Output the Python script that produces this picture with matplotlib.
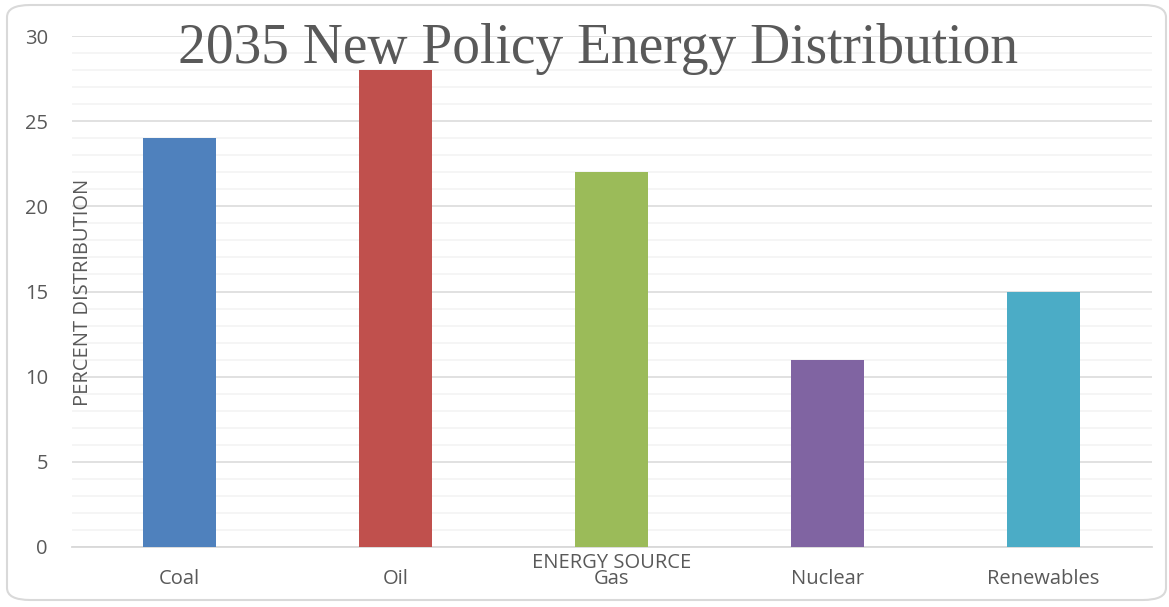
import matplotlib
matplotlib.use("Agg")
import matplotlib.pyplot as plt
from matplotlib.patches import FancyBboxPatch
from matplotlib.ticker import MultipleLocator

sources = ["Coal", "Oil", "Gas", "Nuclear", "Renewables"]
percent = [24, 28, 22, 11, 15]
colors = ["#4F81BD", "#C0504D", "#9BBB59", "#8064A2", "#4BACC6"]

W, H = 1169, 607
text_col = "#595959"
plt.rcParams['font.family'] = ['Open Sans', 'DejaVu Sans']

fig = plt.figure(figsize=(W / 100, H / 100), dpi=100)
ax = fig.add_axes([71.5 / W, (H - 547) / H, 1080 / W, 511 / H])

ax.bar(range(len(sources)), percent, width=0.34, color=colors, zorder=3)
ax.set_xlim(-0.5, len(sources) - 0.5)
ax.set_ylim(0, 30)
ax.yaxis.set_major_locator(MultipleLocator(5))
ax.yaxis.set_minor_locator(MultipleLocator(1))
ax.set_xticks(range(len(sources)))
ax.set_xticklabels(sources)

ax.grid(axis='y', which='major', color='#D9D9D9', linewidth=1.1, zorder=1)
ax.grid(axis='y', which='minor', color='#F2F2F2', linewidth=1.1, zorder=0)
for s in ['top', 'right', 'left']:
    ax.spines[s].set_visible(False)
ax.spines['bottom'].set_color('#D9D9D9')
ax.spines['bottom'].set_linewidth(1.3)
ax.tick_params(axis='both', which='both', length=0, colors=text_col, labelsize=14.5)
ax.tick_params(axis='y', pad=17)
ax.tick_params(axis='x', pad=16)

# title sits over the gridlines
fig.text(598 / W, (H - 63) / H, "2035 New Policy Energy Distribution",
         ha='center', va='baseline', fontsize=40, color=text_col,
         family=['Liberation Serif', 'DejaVu Serif'], zorder=5)
fig.text(83 / W, (H - 292) / H, "PERCENT DISTRIBUTION", rotation=90,
         ha='center', va='center', fontsize=14.5, color=text_col)
fig.text(612 / W, (H - 563) / H, "ENERGY SOURCE",
         ha='center', va='center', fontsize=14.5, color=text_col)

# rounded chart frame
frame = FancyBboxPatch((7 / W, 7 / H), (W - 3) / W - 7 / W, (H - 12) / H,
                       boxstyle="round,pad=0,rounding_size=0.02",
                       transform=fig.transFigure, facecolor='none',
                       edgecolor='#D9D9D9', linewidth=1.5, zorder=0)
fig.patches.append(frame)

fig.savefig("out.png", dpi=100)
